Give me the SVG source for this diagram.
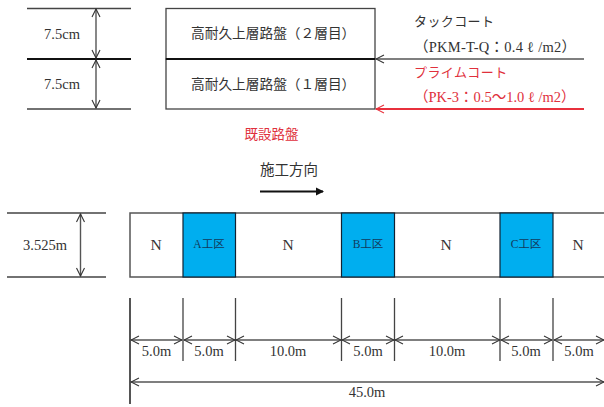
<svg xmlns="http://www.w3.org/2000/svg" width="604" height="407" viewBox="0 0 604 407">
<style>
text{font-family:"Liberation Serif","Noto Sans CJK JP",serif;fill:#333;font-size:14.5px}
.m{text-anchor:middle}
.r{fill:#e0303c}
.sm{font-size:11.500px;fill:#123a5c}
.n{font-size:15.500px}
.l{stroke:#444;stroke-width:1.3;fill:none}
.t{stroke:#111;stroke-width:2;fill:none}
.d{stroke:#555;stroke-width:1.4;fill:none}
.rl{stroke:#e8303c;stroke-width:2;fill:none}
.blue{fill:#00aeef;stroke:#123;stroke-width:1.2}
.layer{font-size:13.700px}
.kana{font-size:13px;letter-spacing:.4px}
</style>
<defs>
<marker id="a" markerWidth="10" markerHeight="10" refX="9" refY="5" orient="auto-start-reverse" markerUnits="userSpaceOnUse"><path d="M1,1 L9,5 L1,9" fill="none" stroke="#333" stroke-width="1.1"/></marker>
<marker id="ar" markerWidth="10" markerHeight="10" refX="9" refY="5" orient="auto-start-reverse" markerUnits="userSpaceOnUse"><path d="M1,1 L9,5 L1,9" fill="none" stroke="#e8303c" stroke-width="1.1"/></marker>
<marker id="af" markerWidth="10" markerHeight="10" refX="8" refY="5" orient="auto" markerUnits="userSpaceOnUse"><path d="M1,1 L9,5 L1,9Z" fill="#111"/></marker>
</defs>
<g id="thickness">
<path class="l" d="M27,8.500H131M27,109H131"/><path class="t" d="M27,59H131"/>
<path class="d" d="M96,9V58" marker-start="url(#a)" marker-end="url(#a)"/>
<path class="d" d="M96,60V108" marker-start="url(#a)" marker-end="url(#a)"/>
<text class="m" x="62" y="39">7.5cm</text><text class="m" x="62" y="89">7.5cm</text>
</g>
<g id="layer-2"><rect x="166" y="8.500" width="209" height="50.500" fill="#fff" stroke="#444" stroke-width="1.300"/><text class="layer" x="191" y="38">高耐久上層路盤（２層目）</text></g>
<g id="layer-1"><rect x="166" y="59" width="209" height="50" fill="#fff" stroke="#444" stroke-width="1.300"/><text class="layer" x="191" y="89">高耐久上層路盤（１層目）</text></g>
<path class="t" d="M166,59H375"/>
<g id="labels">
<text class="kana" x="414" y="26">タックコート</text>
<text x="414" y="52" style="letter-spacing:.25px">（PKM-T-Q：0.4 ℓ /m2）</text>
<text class="r kana" x="414" y="77">プライムコート</text>
<text class="r" x="414" y="102">（PK-3：0.5～1.0 ℓ /m2）</text>
<text class="r m" x="271.500" y="139" style="font-size:13.500px">既設路盤</text>
<text x="260" y="175">施工方向</text>
</g>
<g id="connectors">
<path class="d" d="M584,59H376" marker-end="url(#a)"/>
<path class="rl" d="M584,109H376" marker-end="url(#ar)"/>
<path class="t" d="M260,191.500H323" marker-end="url(#af)"/>
</g>
<g id="width">
<path class="l" d="M7,213H106M7,277H106"/>
<path class="d" d="M80.500,214V276" marker-start="url(#a)" marker-end="url(#a)"/>
<text class="m" x="45" y="250">3.525m</text>
</g>
<g id="lane"><path d="M604,213H130V277H604" fill="#fff" stroke="#555" stroke-width="1.500"/></g>
<g id="n1"><text class="m n" x="156" y="250">N</text></g>
<g id="a-zone"><rect class="blue" x="183" y="213" width="52.500" height="64"/><text class="m sm" x="209" y="248">A工区</text></g>
<g id="n2"><text class="m n" x="288" y="250">N</text></g>
<g id="b-zone"><rect class="blue" x="341.500" y="213" width="53" height="64"/><text class="m sm" x="368" y="248">B工区</text></g>
<g id="n3"><text class="m n" x="446" y="250">N</text></g>
<g id="c-zone"><rect class="blue" x="500" y="213" width="53" height="64"/><text class="m sm" x="526" y="248">C工区</text></g>
<g id="n4"><text class="m n" x="578" y="250">N</text></g>
<g id="dimensions">
<path stroke="#555" stroke-width="2" d="M130,298V404"/>
<path class="l" d="M183,298V361M235.500,298V361M341.500,298V361M394.500,298V361M500,298V361M553,298V361"/>
<path class="d" d="M131,340H182" marker-start="url(#a)" marker-end="url(#a)"/>
<path class="d" d="M184,340H235" marker-start="url(#a)" marker-end="url(#a)"/>
<path class="d" d="M236,340H341" marker-start="url(#a)" marker-end="url(#a)"/>
<path class="d" d="M342,340H394" marker-start="url(#a)" marker-end="url(#a)"/>
<path class="d" d="M395,340H500" marker-start="url(#a)" marker-end="url(#a)"/>
<path class="d" d="M501,340H552" marker-start="url(#a)" marker-end="url(#a)"/>
<path class="d" d="M554,340H604" marker-start="url(#a)" marker-end="url(#a)"/>
<path class="d" d="M131,382H604" marker-start="url(#a)" marker-end="url(#a)"/>
<text class="m" x="156.500" y="356">5.0m</text><text class="m" x="209" y="356">5.0m</text><text class="m" x="288" y="356">10.0m</text><text class="m" x="368" y="356">5.0m</text><text class="m" x="447" y="356">10.0m</text><text class="m" x="526" y="356">5.0m</text><text class="m" x="579" y="356">5.0m</text>
<text class="m" x="367" y="397">45.0m</text>
</g>
</svg>
